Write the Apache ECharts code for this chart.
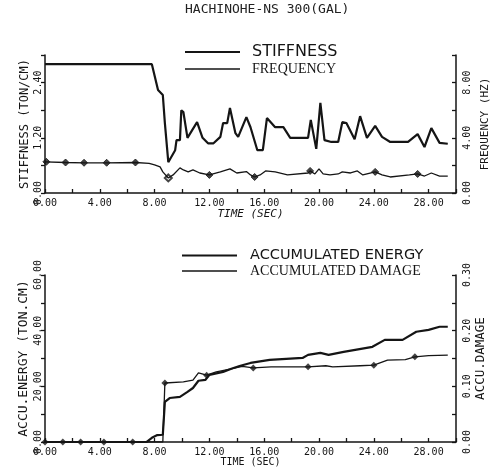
<!DOCTYPE html>
<html>
<head>
<meta charset="utf-8">
<script src="https://cdn.jsdelivr.net/npm/echarts@6.0.0/dist/echarts.min.js"></script>
<style>
  html, body { margin: 0; padding: 0; background: #fff; }
  #chart { width: 499px; height: 474px; }
</style>
</head>
<body>
<div id="chart"></div>
<script>
// stiffness (ton/cm) vs time (sec)
var stiffT = [0, 7.8, 8.25, 8.6, 8.75, 9.0, 9.5, 9.6, 9.85, 9.95, 10.1, 10.4, 11.1, 11.5, 11.9, 12.3, 12.8, 13.0, 13.3, 13.5, 13.9, 14.1, 14.7, 15.0, 15.5, 15.9, 16.2, 16.8, 17.4, 17.9, 19.2, 19.4, 19.8, 20.1, 20.4, 20.9, 21.4, 21.7, 22.0, 22.6, 23.0, 23.5, 24.1, 24.6, 25.2, 26.5, 27.2, 27.7, 28.2, 28.8, 29.4];
var stiffV = [2.80, 2.80, 2.24, 2.13, 1.52, 0.67, 0.93, 1.15, 1.15, 1.80, 1.76, 1.20, 1.54, 1.20, 1.08, 1.08, 1.22, 1.52, 1.52, 1.85, 1.30, 1.22, 1.65, 1.43, 0.93, 0.93, 1.63, 1.43, 1.43, 1.20, 1.20, 1.59, 0.96, 1.96, 1.15, 1.11, 1.11, 1.54, 1.52, 1.17, 1.67, 1.20, 1.46, 1.22, 1.11, 1.11, 1.28, 1.00, 1.41, 1.09, 1.07];

// frequency (Hz)
var freqT = [0, 1.5, 2.85, 4.5, 6.6, 7.6, 8.0, 8.4, 8.6, 9.0, 9.35, 9.85, 10.1, 10.45, 10.8, 11.3, 12.0, 12.8, 13.5, 14.0, 14.7, 15.0, 15.3, 15.7, 16.1, 16.8, 17.7, 19.2, 19.35, 19.7, 20.0, 20.3, 20.8, 21.4, 21.7, 22.3, 22.8, 23.2, 24.1, 24.6, 25.2, 26.6, 27.2, 27.7, 28.2, 28.8, 29.4];
var freqV = [2.26, 2.21, 2.19, 2.19, 2.21, 2.15, 2.04, 1.89, 1.53, 1.09, 1.31, 1.82, 1.67, 1.53, 1.67, 1.45, 1.31, 1.53, 1.75, 1.45, 1.55, 1.31, 1.16, 1.31, 1.60, 1.53, 1.31, 1.45, 1.60, 1.38, 1.75, 1.38, 1.31, 1.38, 1.53, 1.45, 1.60, 1.31, 1.53, 1.31, 1.16, 1.31, 1.38, 1.23, 1.45, 1.23, 1.23];
var freqMarkT = [0.1, 1.5, 2.85, 4.5, 6.6, 9.0, 12.0, 15.3, 19.35, 24.1, 27.2];
var freqMarkV = [2.26, 2.21, 2.19, 2.19, 2.21, 1.09, 1.31, 1.16, 1.60, 1.53, 1.38];

// accumulated energy (ton.cm)
var energyT = [0, 7.4, 7.8, 8.2, 8.6, 8.75, 9.1, 9.85, 10.4, 10.8, 11.2, 11.7, 12.0, 13.0, 13.6, 14.2, 15.0, 16.4, 18.8, 19.2, 20.1, 20.7, 21.8, 23.9, 24.8, 26.1, 27.1, 28.0, 28.8, 29.4];
var energyV = [0, 0, 1.5, 2.5, 2.6, 14.4, 15.8, 16.2, 18.0, 19.4, 22.0, 22.3, 24.1, 25.2, 26.3, 27.3, 28.4, 29.5, 30.2, 31.3, 32.0, 31.3, 32.4, 34.2, 36.7, 36.7, 39.6, 40.3, 41.4, 41.4];

// accumulated damage
var damageT = [0, 8.6, 8.75, 10.1, 10.8, 11.2, 11.8, 12.5, 13.5, 14.4, 15.2, 16.5, 19.2, 20.5, 21.0, 23.0, 24.0, 25.0, 26.3, 27.0, 28.0, 29.4];
var damageV = [0, 0, 0.106, 0.108, 0.111, 0.124, 0.120, 0.126, 0.131, 0.136, 0.133, 0.135, 0.135, 0.137, 0.135, 0.137, 0.138, 0.147, 0.148, 0.153, 0.155, 0.156];
var damageMarkT = [0, 1.3, 2.6, 4.3, 6.4, 8.75, 11.8, 15.2, 19.2, 24.0, 27.0];
var damageMarkV = [0, 0, 0, 0, 0, 0.106, 0.120, 0.133, 0.135, 0.138, 0.153];

var MONO = 'DejaVu Sans Mono';
var INK = '#151515';
var THICK = 'path://M0,0H55V2.2H0Z';
var THIN = 'path://M0,0H55V1.4H0Z';

function pairs(t, v) {
    return t.map(function (x, i) { return [x, v[i]]; });
}

function xAxisFor(gridIndex, nameStyle, nameGap) {
    return {
        type: 'value', gridIndex: gridIndex, min: 0, max: 30, interval: 2,
        name: 'TIME (SEC)', nameLocation: 'middle', nameGap: nameGap,
        nameMoveOverlap: false,
        nameTextStyle: nameStyle,
        axisLine: { lineStyle: { color: INK, width: 1.5 } },
        axisTick: { inside: true, length: 4, lineStyle: { color: INK, width: 1.3 } },
        splitLine: { show: false },
        axisLabel: {
            margin: 5, fontFamily: MONO, fontSize: 10, color: INK,
            formatter: function (v) { return (v % 4 === 0 && v < 30) ? v.toFixed(2) : ''; }
        }
    };
}

// labels on every second tick, rotated like the plotter output
function yAxisFor(gridIndex, pos, max, step, name, nameSize, nameGap) {
    return {
        type: 'value', gridIndex: gridIndex, position: pos, min: 0, max: max, interval: step,
        name: name, nameLocation: 'middle', nameGap: nameGap,
        nameMoveOverlap: false,
        nameTextStyle: { fontFamily: MONO, fontSize: nameSize, color: INK },
        axisLine: { show: true, lineStyle: { color: INK, width: 1.5 } },
        axisTick: { show: true, inside: pos === 'right', length: 4, lineStyle: { color: INK, width: 1.3 } },
        splitLine: { show: false },
        axisLabel: {
            rotate: 90, margin: pos === 'right' ? 6 : 2, fontFamily: MONO, fontSize: 10, color: INK,
            formatter: function (v) {
                return Math.round(v / step) % 2 === 0 ? v.toFixed(2) : '';
            }
        }
    };
}

var chart = echarts.init(document.getElementById('chart'));

var option = {
    backgroundColor: '#fff',
    animation: false,
    title: {
        text: 'HACHINOHE-NS 300(GAL)', left: 185, top: 3, padding: 0,
        textStyle: { fontFamily: MONO, fontSize: 13, fontWeight: 'normal', color: '#222' }
    },
    legend: [
        {
            orient: 'vertical', left: 185, top: 44, padding: 0, itemGap: 2, itemWidth: 55, itemHeight: 14,
            data: [{ name: 'STIFFNESS', icon: THICK }, { name: 'FREQUENCY', icon: THIN }],
            formatter: function (n) { return n === 'STIFFNESS' ? '{s|' + n + '}' : '{r|' + n + '}'; },
            textStyle: {
                color: INK, padding: [0, 0, 0, 7],
                rich: {
                    s: { fontFamily: 'DejaVu Sans', fontSize: 16, color: INK },
                    r: { fontFamily: 'Liberation Serif', fontSize: 14, color: INK }
                }
            }
        },
        {
            orient: 'vertical', left: 182, top: 248, padding: 0, itemGap: 1, itemWidth: 55, itemHeight: 14,
            data: [{ name: 'ACCUMULATED ENERGY', icon: THICK }, { name: 'ACCUMULATED DAMAGE', icon: THIN }],
            formatter: function (n) { return n === 'ACCUMULATED ENERGY' ? '{s|' + n + '}' : '{r|' + n + '}'; },
            textStyle: {
                color: INK, padding: [0, 0, 0, 8],
                rich: {
                    s: { fontFamily: 'DejaVu Sans', fontSize: 14.5, color: INK },
                    r: { fontFamily: 'Liberation Serif', fontSize: 14, color: INK }
                }
            }
        }
    ],
    grid: [
        { left: 45, right: 43, top: 55, height: 138 },
        { left: 45, right: 43, top: 275, height: 167 }
    ],
    xAxis: [
        xAxisFor(0, { fontFamily: MONO, fontSize: 11, fontStyle: 'italic', color: INK }, 16),
        xAxisFor(1, { fontFamily: MONO, fontSize: 10, color: INK }, 15)
    ],
    yAxis: [
        yAxisFor(0, 'left', 3, 0.6, 'STIFFNESS (TON/CM)', 12, 14),
        yAxisFor(0, 'right', 10, 2, 'FREQUENCY (HZ)', 11, 24),
        yAxisFor(1, 'left', 60, 10, 'ACCU.ENERGY (TON.CM)', 13, 15),
        yAxisFor(1, 'right', 0.3, 0.05, 'ACCU.DAMAGE', 12.5, 18)
    ],
    series: [
        {
            name: 'STIFFNESS', type: 'line', xAxisIndex: 0, yAxisIndex: 0,
            data: pairs(stiffT, stiffV), symbol: 'none',
            lineStyle: { color: INK, width: 2.2 }, itemStyle: { color: INK }
        },
        {
            name: 'FREQUENCY', type: 'line', xAxisIndex: 0, yAxisIndex: 1,
            data: pairs(freqT, freqV), symbol: 'none',
            lineStyle: { color: INK, width: 1.3 }, itemStyle: { color: INK }
        },
        {
            type: 'scatter', xAxisIndex: 0, yAxisIndex: 1,
            data: pairs(freqMarkT, freqMarkV).map(function (p) {
                // the marker at the drop is drawn hollow
                return p[0] === 9.0 ? { value: p, symbol: 'emptyDiamond', itemStyle: { borderWidth: 1.3 } } : p;
            }),
            symbol: 'diamond', symbolSize: 7,
            itemStyle: { color: INK, borderColor: INK }
        },
        {
            name: 'ACCUMULATED ENERGY', type: 'line', xAxisIndex: 1, yAxisIndex: 2,
            data: pairs(energyT, energyV), symbol: 'none',
            lineStyle: { color: INK, width: 2.2 }, itemStyle: { color: INK }
        },
        {
            name: 'ACCUMULATED DAMAGE', type: 'line', xAxisIndex: 1, yAxisIndex: 3,
            data: pairs(damageT, damageV), symbol: 'none',
            lineStyle: { color: INK, width: 1.3 }, itemStyle: { color: INK }
        },
        {
            type: 'scatter', xAxisIndex: 1, yAxisIndex: 3,
            data: pairs(damageMarkT, damageMarkV), symbol: 'diamond', symbolSize: 7,
            itemStyle: { color: INK }
        }
    ]
};

chart.setOption(option);
</script>
</body>
</html>
